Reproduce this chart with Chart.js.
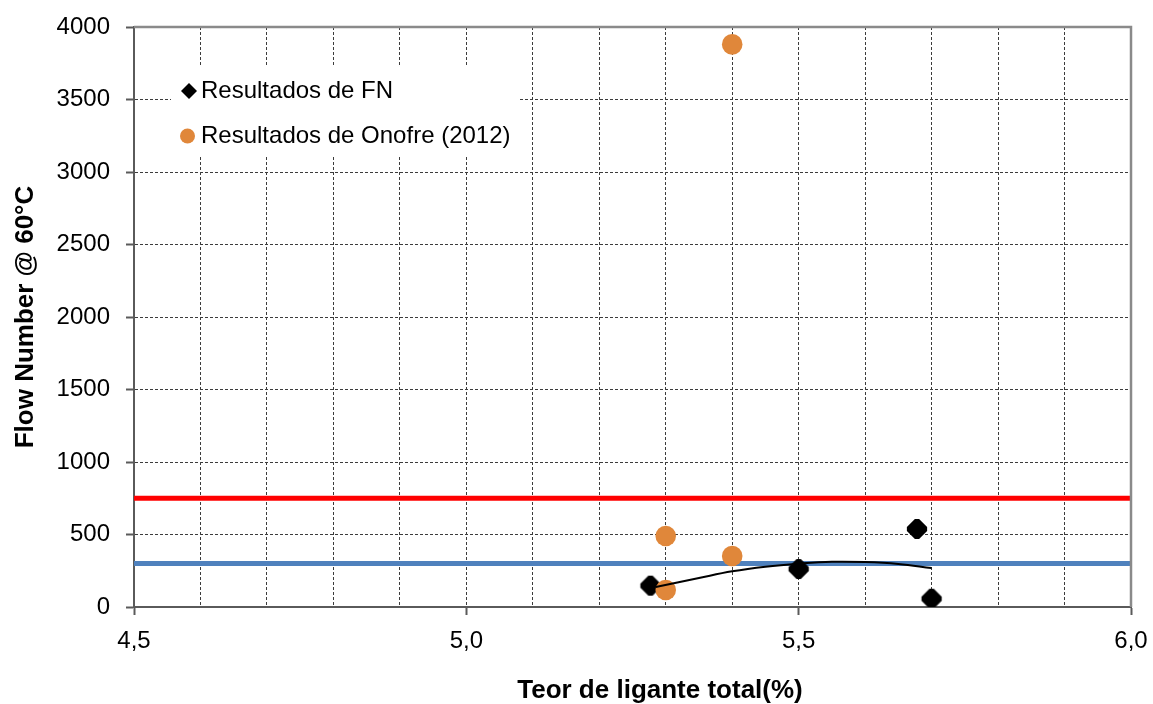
<!DOCTYPE html>
<html>
<head>
<meta charset="utf-8">
<script src="https://cdn.jsdelivr.net/npm/chart.js@4.4.1/dist/chart.umd.min.js"></script>
<style>
  html, body { margin: 0; padding: 0; background: #fff; }
  #wrap { width: 1153px; height: 704px; position: relative; }
</style>
</head>
<body>
<div id="wrap"><canvas id="c" width="1153" height="704"></canvas></div>
<script>
// ---- data ----
const fnX = [5.277, 5.5, 5.678, 5.7];
const fnY = [147, 262, 538, 57];
const onofreX = [5.3, 5.3, 5.4, 5.4];
const onofreY = [490, 117, 352, 3880];
const trendX = [5.285, 5.35, 5.4, 5.45, 5.5, 5.55, 5.6, 5.65, 5.7];
const trendY = [138, 200, 246, 278, 299, 312, 310, 297, 269];
const limitX = [4.5, 6.0];
const redLimit = 750;
const blueLimit = 300;
const xTickMajors = [4.5, 5.0, 5.5, 6.0];
const seriesLabels = ['Resultados de FN', 'Resultados de Onofre (2012)'];
const xTitle = 'Teor de ligante total(%)';
const yTitle = 'Flow Number @ 60°C';

const pts = (xs, ys) => xs.map((x, i) => ({x: x, y: ys[i]}));
const ORANGE = 'rgb(224,135,58)';
const BLUE = 'rgb(79,129,189)';
const AXIS = '#5a5a5a';
const FONT = '"Liberation Sans", Arial, sans-serif';

// diamond marker with bevelled (octagonal) corners
function makeDiamond(half, lw, color) {
  const s = Math.ceil((half + lw) * 2 + 2);
  const cv = document.createElement('canvas');
  cv.width = s; cv.height = s;
  const g = cv.getContext('2d');
  const c = s / 2;
  g.beginPath();
  g.moveTo(c, c - half); g.lineTo(c + half, c); g.lineTo(c, c + half); g.lineTo(c - half, c);
  g.closePath();
  g.fillStyle = color; g.fill();
  if (lw > 0) { g.lineJoin = 'bevel'; g.lineWidth = lw; g.strokeStyle = color; g.stroke(); }
  return cv;
}
const bigDiamond = makeDiamond(8.0, 6.0, '#000');

const isMajor = v => xTickMajors.some(m => Math.abs(m - v) < 1e-6);

const frameAndLegend = {
  id: 'frameAndLegend',
  afterDatasetsDraw(chart) {
    const {ctx, chartArea: a} = chart;
    ctx.save();
    // top & right frame
    ctx.strokeStyle = '#8a8a8a';
    ctx.lineWidth = 2.5;
    ctx.beginPath();
    ctx.moveTo(a.left, a.top); ctx.lineTo(a.right, a.top); ctx.lineTo(a.right, a.bottom);
    ctx.stroke();
    // legend box
    ctx.fillStyle = '#fff';
    ctx.fillRect(171, 67, 349, 90);
    const y1 = 91, y2 = 136;
    ctx.fillStyle = '#000';
    ctx.beginPath();
    ctx.moveTo(189, y1 - 8); ctx.lineTo(197, y1); ctx.lineTo(189, y1 + 8); ctx.lineTo(181, y1);
    ctx.closePath(); ctx.fill();
    ctx.fillStyle = ORANGE;
    ctx.beginPath(); ctx.arc(187.5, y2, 7.5, 0, Math.PI * 2); ctx.fill();
    ctx.fillStyle = '#000';
    ctx.font = '24px ' + FONT;
    ctx.textBaseline = 'middle';
    ctx.textAlign = 'left';
    ctx.fillText(chart.data.datasets[0].label, 201, y1);
    ctx.fillText(chart.data.datasets[1].label, 201, y2);
    // x-axis title (offset to the right as in the reference)
    ctx.font = 'bold 26px ' + FONT;
    ctx.textAlign = 'center';
    ctx.textBaseline = 'alphabetic';
    ctx.fillText(xTitle, 660, 698);
    ctx.restore();
  }
};

new Chart(document.getElementById('c'), {
  type: 'scatter',
  data: {
    datasets: [
      { label: seriesLabels[0], data: pts(fnX, fnY), pointStyle: bigDiamond,
        pointRadius: 10, backgroundColor: '#000', borderColor: '#000', order: 2 },
      { label: seriesLabels[1], data: pts(onofreX, onofreY), pointStyle: 'circle',
        pointRadius: 10.3, backgroundColor: ORANGE, borderColor: ORANGE, borderWidth: 0, order: 1 },
      { label: 'trend', type: 'line', data: pts(trendX, trendY), showLine: true,
        borderColor: '#000', borderWidth: 2, pointRadius: 0, tension: 0.4, fill: false, order: 0 },
      { label: 'limite 750', type: 'line', data: pts(limitX, [redLimit, redLimit]), showLine: true,
        borderColor: '#ff0000', borderWidth: 5, pointRadius: 0, fill: false, order: 4 },
      { label: 'limite 300', type: 'line', data: pts(limitX, [blueLimit, blueLimit]), showLine: true,
        borderColor: BLUE, borderWidth: 5, pointRadius: 0, fill: false, order: 3 }
    ]
  },
  options: {
    responsive: false,
    animation: false,
    events: [],
    layout: { padding: { top: 27, right: 22, left: 0, bottom: 0 } },
    plugins: { legend: { display: false }, tooltip: { enabled: false } },
    scales: {
      x: {
        type: 'linear', min: 4.5, max: 6.0,
        afterFit(s) { s.height = 97; s.paddingLeft = 0; s.paddingRight = 0; },
        ticks: {
          stepSize: 0.1, autoSkip: false, maxRotation: 0, maxTicksLimit: 100,
          padding: 12, color: '#000', font: { family: FONT, size: 24 },
          callback: v => isMajor(v) ? v.toFixed(1).replace('.', ',') : ''
        },
        grid: {
          color: '#3c3c3c', lineWidth: 1, drawTicks: true, tickLength: 8,
          tickColor: ctx => (ctx.tick && isMajor(ctx.tick.value)) ? AXIS : 'rgba(0,0,0,0)',
          tickWidth: 2
        },
        border: { display: true, color: AXIS, width: 2, dash: [3, 2] },
        title: { display: false }
      },
      y: {
        min: 0, max: 4000,
        afterFit(s) { s.width = 134; s.paddingTop = 0; s.paddingBottom = 0; },
        ticks: { stepSize: 500, padding: 16, color: '#000', font: { family: FONT, size: 24 },
          callback: v => String(v) },
        grid: { color: '#3c3c3c', lineWidth: 1, drawTicks: true, tickLength: 8,
          tickColor: AXIS, tickWidth: 2 },
        border: { display: true, color: AXIS, width: 2, dash: [3, 2] },
        title: { display: true, text: yTitle, color: '#000',
          font: { family: FONT, size: 26, weight: 'bold', lineHeight: 1.2 },
          padding: { top: 10, bottom: 0 } }
      }
    }
  },
  plugins: [frameAndLegend]
});
</script>
</body>
</html>
